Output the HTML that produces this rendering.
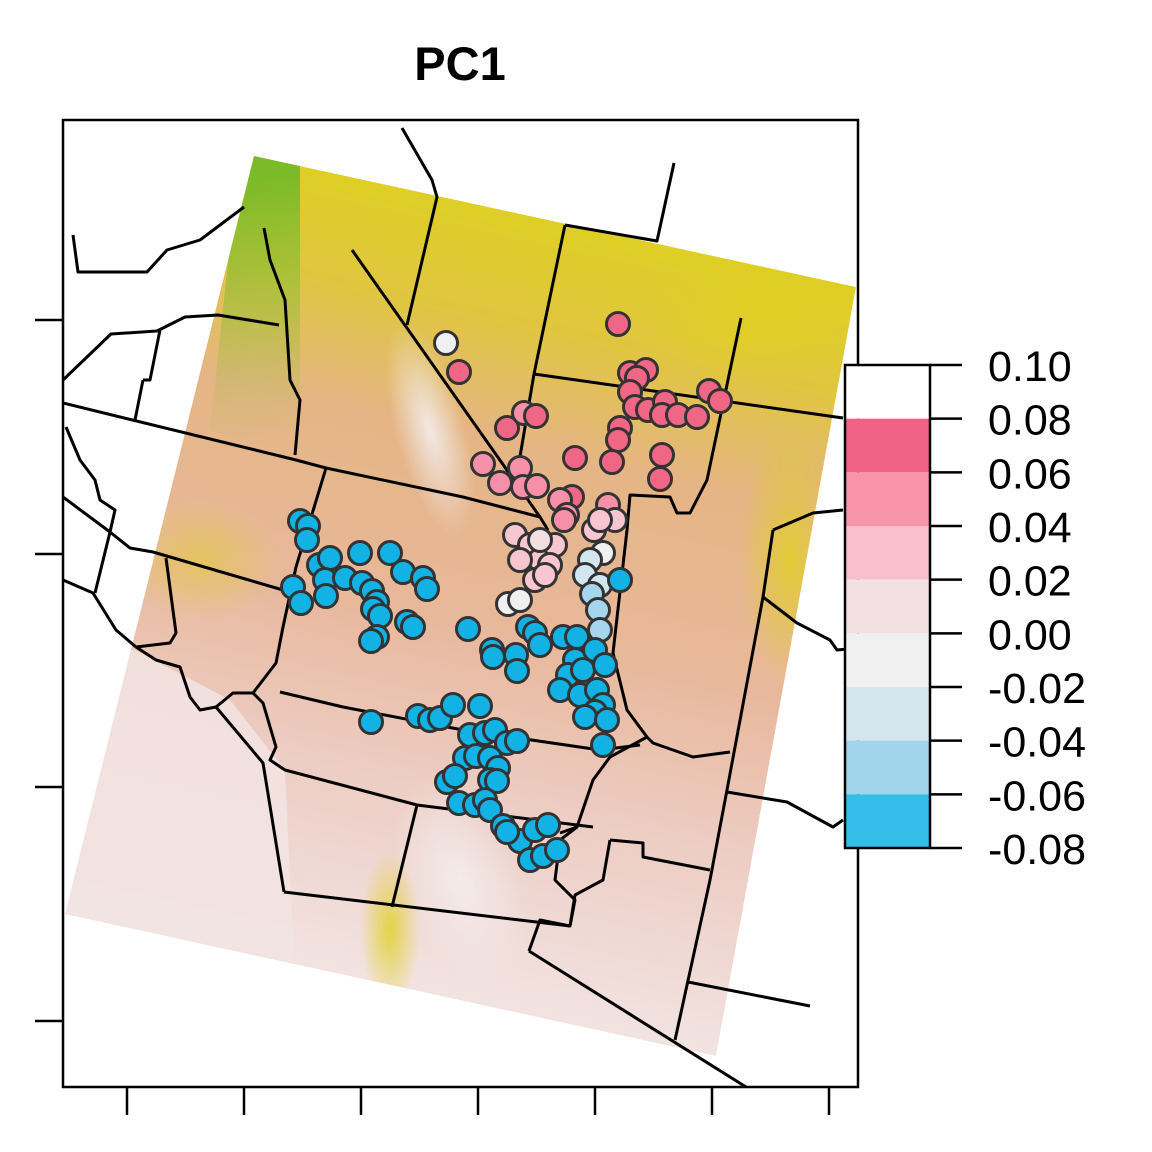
<!DOCTYPE html>
<html><head><meta charset="utf-8">
<style>
html,body{margin:0;padding:0;background:#fff;}
svg{display:block;font-family:"Liberation Sans",sans-serif;}
</style></head>
<body>
<svg id="chart" width="1152" height="1152" viewBox="0 0 1152 1152" xmlns="http://www.w3.org/2000/svg">
<defs>
<linearGradient id="elev" gradientUnits="userSpaceOnUse" x1="560" y1="180" x2="380" y2="990">
<stop offset="0" stop-color="#ddd21a"/>
<stop offset="0.18" stop-color="#e0c640"/>
<stop offset="0.32" stop-color="#e5b584"/>
<stop offset="0.55" stop-color="#e8b89c"/>
<stop offset="0.75" stop-color="#edcdc4"/>
<stop offset="1" stop-color="#f2e4e2"/>
</linearGradient>
<linearGradient id="green" gradientUnits="userSpaceOnUse" x1="250" y1="180" x2="290" y2="440">
<stop offset="0" stop-color="#70b828" stop-opacity="0.9"/>
<stop offset="1" stop-color="#a0c040" stop-opacity="0"/>
</linearGradient>
<radialGradient id="pale" cx="0.5" cy="0.5" r="0.5">
<stop offset="0" stop-color="#f3eeee" stop-opacity="0.9"/>
<stop offset="1" stop-color="#f3eeee" stop-opacity="0"/>
</radialGradient>
<radialGradient id="yel" cx="0.5" cy="0.5" r="0.5">
<stop offset="0" stop-color="#e0d020" stop-opacity="0.8"/>
<stop offset="1" stop-color="#e0d020" stop-opacity="0"/>
</radialGradient>
<clipPath id="rasterclip"><polygon points="254,156 856,287 716,1056 65,914"/></clipPath>
<clipPath id="frameclip"><rect x="63" y="120" width="795" height="967"/></clipPath>
</defs>
<text x="460" y="80" font-size="47" font-weight="bold" text-anchor="middle">PC1</text>
<g clip-path="url(#rasterclip)">
<polygon points="254,156 856,287 716,1056 65,914" fill="url(#elev)"/>
<polygon points="240,150 300,160 300,460 210,430" fill="url(#green)"/>
<polygon points="60,650 135,650 230,700 285,770 295,980 60,980" fill="#f2e4e3" opacity="0.85"/>
<ellipse cx="430" cy="430" rx="35" ry="110" fill="url(#pale)" transform="rotate(-15 430 430)"/>
<ellipse cx="460" cy="880" rx="60" ry="110" fill="url(#pale)" transform="rotate(-20 460 880)"/>
<ellipse cx="390" cy="930" rx="30" ry="80" fill="url(#yel)"/>
<ellipse cx="760" cy="320" rx="120" ry="60" fill="url(#yel)"/>
<ellipse cx="790" cy="560" rx="50" ry="130" fill="url(#yel)"/>
<ellipse cx="200" cy="560" rx="80" ry="60" fill="url(#yel)" opacity="0.6"/>
</g>
<g id="borders" fill="none" stroke="#000" stroke-width="3" stroke-linejoin="round" clip-path="url(#frameclip)"></g>
<g id="points"></g>
<rect x="63" y="120" width="795" height="967" fill="none" stroke="#000" stroke-width="2.5"/>
<g id="axes" stroke="#000" stroke-width="2.5"></g>
<g id="legend"></g>
</svg>
<script>
// Map coordinates (projected units)
const xDomain = [63, 858];
const yDomain = [120, 1087];
const xTicks = [127, 244, 361, 478, 595, 712, 829];
const yTicks = [320, 554, 787, 1021];
// sample sites: x, y, PC1 value
const ptX = [618,459,630,646,637,630,635,648,665,662,678,697,709,720,620,618,612,575,662,660,507,524,536,572,
483,520,500,523,537,560,567,608,615,594,564,
515,530,545,540,555,520,550,535,545,600,
446,508,520,603,540,
590,585,600,592,598,600,
300,308,307,319,330,325,345,360,390,403,423,427,362,372,377,293,301,326,373,380,407,413,377,371,468,492,493,516,517,528,535,540,563,577,620,575,568,583,595,605,560,580,597,603,595,585,607,603,371,418,430,440,453,480,470,485,495,507,517,465,476,490,498,447,455,490,497,459,475,485,490,503,520,507,535,548,530,543,557];
const ptY = [324,372,373,370,378,392,407,410,402,415,415,417,391,401,428,440,462,458,455,479,428,413,416,497,
464,468,483,487,486,500,515,505,520,530,520,
535,545,550,560,545,560,565,580,575,520,
343,604,600,553,540,
560,575,585,594,610,630,
521,526,540,565,558,580,578,553,553,572,578,589,583,591,602,587,603,596,609,616,622,627,637,641,629,650,657,655,671,627,633,645,637,637,580,660,675,670,650,665,690,695,690,705,712,717,720,745,722,716,720,718,705,706,735,733,730,743,741,758,756,758,768,782,776,780,781,803,805,800,810,826,841,832,830,825,860,856,850];
const ptV = [0.07,0.07,0.07,0.07,0.07,0.07,0.07,0.07,0.07,0.07,0.07,0.07,0.07,0.07,0.07,0.07,0.07,0.07,0.07,0.07,0.07,0.05,0.07,0.07,
0.05,0.05,0.05,0.05,0.05,0.05,0.05,0.05,0.03,0.03,0.05,
0.03,0.03,0.03,0.03,0.03,0.03,0.03,0.03,0.03,0.03,
-0.01,-0.01,-0.01,-0.01,0.01,
-0.03,-0.03,-0.03,-0.05,-0.05,-0.05];
while (ptV.length < ptX.length) ptV.push(-0.07);
const legendBreaks = [0.10,0.08,0.06,0.04,0.02,0.00,-0.02,-0.04,-0.06,-0.08];
const legendLabels = ["0.10","0.08","0.06","0.04","0.02","0.00","-0.02","-0.04","-0.06","-0.08"];
const legendColors = ["#ffffff","#f06283","#f794aa","#f9c0cc","#f3e0e2","#eff0ef","#d5e5ee","#a2d4ec","#33bde8"];
const pointColors = ["#ffffff","#f06685","#f590a8","#f8c6d0","#f2dfe2","#f0f0f0","#d2e6f0","#a6d6ee","#12b2e4"];
const borderLines = [
[[402,128],[432,180],[437,197],[407,325]],
[[352,250],[540,517],[548,530]],
[[565,225],[657,241],[674,163]],
[[565,225],[534,374],[514,492]],
[[534,374],[843,418]],
[[741,318],[707,480],[690,513],[677,513],[670,497],[630,495],[627,530],[613,653],[627,710],[647,737],[653,743],[693,757],[730,752]],
[[647,737],[610,757],[593,780],[577,827],[560,833]],
[[63,403],[296,460],[326,468],[463,497],[540,517]],
[[326,468],[296,567],[283,627],[276,663],[253,693]],
[[110,532],[130,548],[153,552],[283,590]],
[[166,558],[176,633],[170,643],[136,647]],
[[136,647],[156,660],[180,667],[190,697],[200,710],[216,707],[263,763],[284,892]],
[[216,707],[233,693],[253,693],[263,703],[276,747],[270,760],[285,770],[417,805],[593,827]],
[[280,692],[343,707],[463,730],[600,750],[640,745]],
[[63,497],[110,532],[95,593]],
[[63,580],[93,593],[116,630],[136,647]],
[[66,427],[80,460],[95,480],[100,500],[115,510],[110,532]],
[[143,380],[135,420]],
[[160,330],[150,380],[143,380]],
[[763,597],[797,623],[830,640],[837,650],[858,648]],
[[773,530],[813,513],[843,510]],
[[773,530],[763,597],[727,790],[710,880],[675,1040]],
[[727,792],[787,802],[833,827],[843,820]],
[[610,840],[643,843],[643,857],[710,870]],
[[610,840],[603,880],[575,895],[570,926]],
[[284,892],[570,926],[575,900],[555,880],[560,840],[577,827]],
[[417,805],[392,907]],
[[529,951],[540,920],[570,926]],
[[529,951],[754,1092]],
[[688,982],[810,1006]],
[[63,380],[111,334],[157,331],[185,317],[218,315],[279,325]],
[[264,228],[270,260],[285,300],[290,380],[300,400],[295,455]],
[[73,235],[78,272],[147,272],[167,250],[200,240],[244,207]]
];
const NS = "http://www.w3.org/2000/svg";
const xScale = v => 63 + (v - xDomain[0]) * (795 / (xDomain[1] - xDomain[0]));
const yScale = v => 120 + (v - yDomain[0]) * (967 / (yDomain[1] - yDomain[0]));
const lScale = v => 365 + (0.10 - v) * (483 / 0.18);
function colorIdx(v){
  for (let i = 0; i < legendColors.length; i++){
    if (v <= legendBreaks[i] && v >= legendBreaks[i+1]) return i;
  }
  return legendColors.length-1;
}
const bg = document.getElementById('borders');
borderLines.forEach(function(line){
  const p = document.createElementNS(NS,'polyline');
  p.setAttribute('points', line.map(q => xScale(q[0]) + ',' + yScale(q[1])).join(' '));
  
  
  bg.appendChild(p);
});
const pg = document.getElementById('points');
for (let i = 0; i < ptX.length; i++){
  const c = document.createElementNS(NS,'circle');
  c.setAttribute('cx', xScale(ptX[i]));
  c.setAttribute('cy', yScale(ptY[i]));
  c.setAttribute('r', 11.5);
  c.setAttribute('fill', pointColors[colorIdx(ptV[i])]);
  c.setAttribute('stroke', '#333');
  c.setAttribute('stroke-width', 3);
  
  
  pg.appendChild(c);
}
const ax = document.getElementById('axes');
xTicks.forEach(function(t){
  const l = document.createElementNS(NS,'line');
  l.setAttribute('x1', xScale(t)); l.setAttribute('x2', xScale(t));
  l.setAttribute('y1', 1087); l.setAttribute('y2', 1115);
  
  
  ax.appendChild(l);
});
yTicks.forEach(function(t){
  const l = document.createElementNS(NS,'line');
  l.setAttribute('x1', 35); l.setAttribute('x2', 63);
  l.setAttribute('y1', yScale(t)); l.setAttribute('y2', yScale(t));
  
  
  ax.appendChild(l);
});
const lg = document.getElementById('legend');
for (let i = 0; i < legendColors.length; i++){
  const r = document.createElementNS(NS,'rect');
  const y0 = lScale(legendBreaks[i]), y1 = lScale(legendBreaks[i+1]);
  r.setAttribute('x', 845); r.setAttribute('width', 85);
  r.setAttribute('y', y0); r.setAttribute('height', y1 - y0);
  r.setAttribute('fill', legendColors[i]);
  
  
  lg.appendChild(r);
}
const box = document.createElementNS(NS,'rect');
box.setAttribute('x', 845); box.setAttribute('width', 85);
box.setAttribute('y', lScale(0.10)); box.setAttribute('height', lScale(-0.08) - lScale(0.10));
box.setAttribute('fill', 'none'); box.setAttribute('stroke', '#000'); box.setAttribute('stroke-width', 2.5);


lg.appendChild(box);
legendBreaks.forEach(function(b, i){
  const l = document.createElementNS(NS,'line');
  l.setAttribute('x1', 930); l.setAttribute('x2', 962);
  l.setAttribute('y1', lScale(b)); l.setAttribute('y2', lScale(b));
  l.setAttribute('stroke', '#000'); l.setAttribute('stroke-width', 2.5);
  
  
  lg.appendChild(l);
  const t = document.createElementNS(NS,'text');
  t.setAttribute('x', 988); t.setAttribute('y', lScale(b) + 16);
  t.setAttribute('font-size', 43);
  t.textContent = legendLabels[i];
  
  
  lg.appendChild(t);
});
</script>
</body></html>
